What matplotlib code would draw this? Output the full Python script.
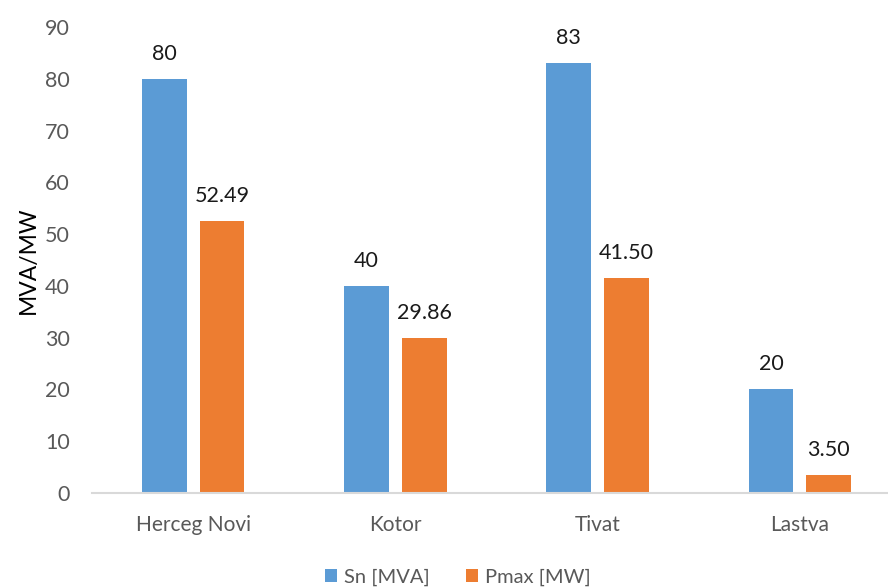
import matplotlib.pyplot as plt
import numpy as np

plt.rcParams['font.family'] = ['Lato', 'DejaVu Sans']

# podaci
kategorije = ['Herceg Novi', 'Kotor', 'Tivat', 'Lastva']
sn = [80, 40, 83, 20]
pmax = [52.49, 29.86, 41.50, 3.50]
sn_labels = ['80', '40', '83', '20']
pmax_labels = ['52.49', '29.86', '41.50', '3.50']

plava = '#5b9bd5'
narandzasta = '#ed7d31'

fig = plt.figure(figsize=(8.88, 5.88), dpi=100)
ax = fig.add_axes([92 / 888, 95 / 588, 809 / 888, 466 / 588])

x = np.arange(len(kategorije))
w = 0.222
off = 0.143
b1 = ax.bar(x - off, sn, w, color=plava, label='Sn [MVA]')
b2 = ax.bar(x + off, pmax, w, color=narandzasta, label='Pmax [MW]')

for rect, txt in zip(b1, sn_labels):
    ax.annotate(txt, (rect.get_x() + rect.get_width() / 2, rect.get_height()),
                xytext=(0, 11), textcoords='offset points', ha='center', va='bottom',
                fontsize=15.5, color='#1a1a1a')
for rect, txt in zip(b2, pmax_labels):
    ax.annotate(txt, (rect.get_x() + rect.get_width() / 2, rect.get_height()),
                xytext=(0, 11), textcoords='offset points', ha='center', va='bottom',
                fontsize=15.5, color='#1a1a1a')

ax.set_xlim(-0.5, 3.5)
ax.set_ylim(0, 90)
ax.set_yticks(range(0, 91, 10))
ax.set_xticks(x)
ax.set_xticklabels(kategorije)
ax.tick_params(axis='y', length=0, labelsize=15.5, labelcolor='#595959', pad=16)
ax.tick_params(axis='x', length=0, labelsize=15, labelcolor='#595959', pad=16)
for s in ['top', 'right', 'left']:
    ax.spines[s].set_visible(False)
ax.spines['bottom'].set_color('#d9d9d9')
ax.spines['bottom'].set_linewidth(1.5)

ax.set_ylabel('MVA/MW', fontsize=16.5, color='black', labelpad=4)

fig.legend(loc='center', bbox_to_anchor=(458 / 888, 11 / 588), ncol=2, frameon=False,
           fontsize=14.5, handlelength=0.6, handleheight=0.6, handletextpad=0.35,
           columnspacing=1.8, labelcolor='#595959')

fig.savefig('out.png', dpi=100)
